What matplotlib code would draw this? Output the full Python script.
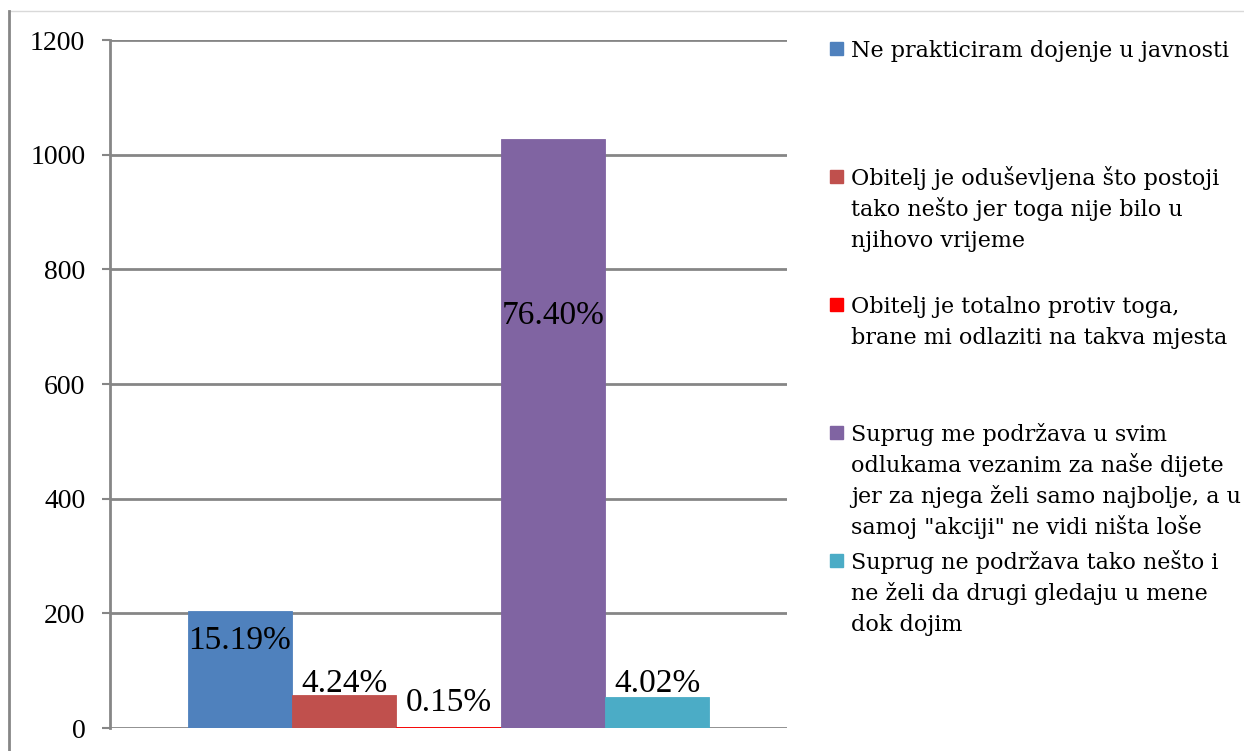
import matplotlib.pyplot as plt
from matplotlib.patches import Rectangle
from matplotlib.lines import Line2D

# data
labels = [
    'Ne prakticiram dojenje u javnosti',
    'Obitelj je oduševljena što postoji\ntako nešto jer toga nije bilo u\nnjihovo vrijeme',
    'Obitelj je totalno protiv toga,\nbrane mi odlaziti na takva mjesta',
    'Suprug me podržava u svim\nodlukama vezanim za naše dijete\njer za njega želi samo najbolje, a u\nsamoj "akciji" ne vidi ništa loše',
    'Suprug ne podržava tako nešto i\nne želi da drugi gledaju u mene\ndok dojim',
]
counts = [204, 57, 2, 1027, 54]
percents = ['15.19%', '4.24%', '0.15%', '76.40%', '4.02%']
colors = ['#4F81BD', '#C0504D', '#FF0000', '#8064A2', '#4BACC6']
yticks = [0, 200, 400, 600, 800, 1000, 1200]

# where the percentage labels sit (data units)
label_y = [153, 78, 44, 719, 78]

W, H = 1244, 751
fig = plt.figure(figsize=(W / 100, H / 100), dpi=100)

def fx(px):
    return px / W

def fy(py):
    return 1 - py / H

ax = fig.add_axes([fx(110), fy(728), fx(787) - fx(110), fy(40) - fy(728)])

grey = '#868686'
x = list(range(len(counts)))
ax.bar(x, counts, width=1.0, color=colors, edgecolor=colors, linewidth=0.6, zorder=3)
ax.set_xlim(-1.2425, 5.2425)
ax.set_ylim(0, 1200)
ax.set_yticks(yticks)
ax.set_yticklabels([str(t) for t in yticks], family='Liberation Serif', fontsize=20)
ax.set_xticks([])
ax.yaxis.grid(True, color=grey, linewidth=2, zorder=0)
ax.tick_params(axis='y', length=5.8, width=1.5, color=grey, pad=12)
for s in ['top', 'right', 'bottom']:
    ax.spines[s].set_visible(False)
ax.spines['left'].set_color(grey)
ax.spines['left'].set_linewidth(2)

for xi, ly, p in zip(x, label_y, percents):
    ax.text(xi, ly, p, ha='center', va='center', family='Liberation Serif',
            fontsize=24, zorder=4)

# legend, hand placed like Excel does it
for i, (lab, c) in enumerate(zip(labels, colors)):
    base = 57 + 128 * i
    fig.patches.append(Rectangle((fx(830), fy(base - 2)), fx(13), fy(base - 15) - fy(base - 2),
                                 transform=fig.transFigure, color=c))
    for j, line in enumerate(lab.split('\n')):
        fig.text(fx(851), fy(base + 31 * j), line, ha='left', va='baseline',
                 family='DejaVu Serif', fontsize=16)

# page frame
fig.lines.append(Line2D([fx(9), 1], [fy(11), fy(11)], transform=fig.transFigure,
                        color='#d9d9d9', linewidth=1))
fig.lines.append(Line2D([fx(9), fx(9)], [fy(11), 0], transform=fig.transFigure,
                        color=grey, linewidth=2))

fig.savefig('out.png', dpi=100)
